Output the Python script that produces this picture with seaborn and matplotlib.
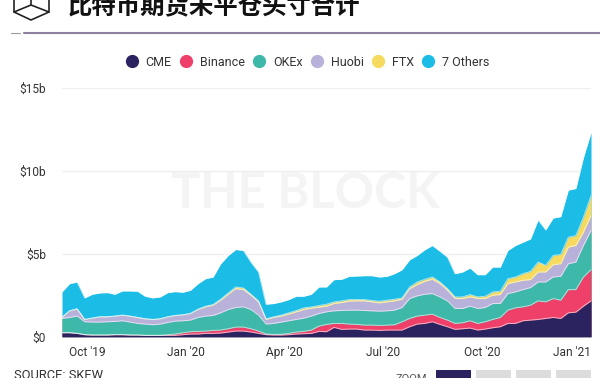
import matplotlib
matplotlib.use('Agg')
import matplotlib.pyplot as plt
import matplotlib.dates as mdates
from matplotlib.lines import Line2D
from matplotlib.patches import Rectangle
from matplotlib.transforms import ScaledTranslation
import seaborn as sns
import pandas as pd

# weekly open interest, top edge of each stacked band ($b)
dates = pd.date_range('2019-09-08', periods=71, freq='7D')

cme = [.24, .24, .2, .12, .1, .1, .1, .12, .12, .1, .1, .08, .08, .08, .08, .08, .12, .16, .16, .2,
       .2, .22, .28, .34, .34, .28, .2, .12, .1, .1, .12, .16, .18, .2, .32,
       .3, .56, .44, .46, .46, .4, .4, .38, .4, .4, .4, .6, .76, .8, .9, .74, .6, .44, .48, .52,
       .4, .46, .54, .6, .8, .8, .96, 1.0, 1.04, 1.1, 1.16, 1.1, 1.44, 1.48, 1.84, 2.16]
binance = [.24, .24, .2, .12, .1, .1, .1, .12, .12, .1, .1, .08, .08, .08, .12, .16, .24, .3, .32, .34,
           .38, .4, .48, .58, .58, .48, .34, .16, .14, .14, .2, .28, .32, .4, .64,
           .74, .8, .8, .76, .74, .7, .7, .68, .7, .72, .9, 1.1, 1.24, 1.3, 1.36, 1.16, 1.0, .8, .84, .96,
           .8, .9, 1.04, 1.16, 1.6, 1.74, 1.8, 1.9, 2.16, 2.1, 2.3, 2.2, 2.84, 2.84, 3.6, 4.04]
okex = [1.1, 1.16, 1.24, .9, .88, .88, .9, .92, .96, .88, .8, .76, .72, .76, .86, .94, .96, 1.0, 1.16, 1.24,
        1.28, 1.44, 1.64, 1.76, 1.8, 1.64, 1.3, .76, .8, .88, .96, 1.04, 1.12, 1.24, 1.4,
        1.5, 1.56, 1.58, 1.6, 1.6, 1.58, 1.56, 1.54, 1.56, 1.6, 1.76, 2.3, 2.46, 2.56, 2.6, 2.4, 2.16, 1.7, 1.7, 1.84,
        1.7, 1.76, 2.0, 2.0, 2.6, 2.7, 2.84, 2.96, 3.3, 3.3, 3.6, 3.64, 4.4, 4.5, 5.5, 6.4]
huobi = [1.16, 1.56, 1.68, 1.04, 1.12, 1.2, 1.2, 1.24, 1.3, 1.24, 1.16, 1.08, 1.04, 1.08, 1.2, 1.28, 1.32, 1.4, 1.64, 1.8,
         1.9, 2.2, 2.56, 2.9, 2.84, 2.5, 2.1, 1.04, 1.16, 1.24, 1.36, 1.5, 1.64, 1.72, 1.78,
         1.84, 2.0, 2.06, 2.14, 2.16, 2.16, 2.1, 2.04, 2.1, 2.16, 2.26, 2.9, 3.14, 3.34, 3.46, 3.2, 2.8, 2.3, 2.3, 2.4,
         2.3, 2.3, 2.5, 2.54, 3.2, 3.3, 3.4, 3.44, 3.9, 3.9, 4.34, 4.4, 5.4, 5.5, 6.3, 7.3]
ftx = [1.16, 1.56, 1.68, 1.04, 1.12, 1.2, 1.2, 1.24, 1.3, 1.24, 1.16, 1.08, 1.04, 1.08, 1.2, 1.28, 1.32, 1.4, 1.66, 1.84,
       1.94, 2.26, 2.64, 3.0, 2.94, 2.56, 2.16, 1.08, 1.2, 1.3, 1.44, 1.58, 1.74, 1.8, 1.88,
       1.96, 2.1, 2.16, 2.24, 2.24, 2.24, 2.18, 2.14, 2.2, 2.26, 2.34, 3.0, 3.3, 3.46, 3.6, 3.3, 2.9, 2.4, 2.4, 2.54,
       2.4, 2.44, 2.7, 2.74, 3.5, 3.6, 3.8, 3.94, 4.5, 4.3, 4.9, 4.96, 6.0, 6.1, 7.2, 8.5]
others = [2.7, 3.2, 3.3, 2.34, 2.56, 2.64, 2.66, 2.56, 2.76, 2.76, 2.74, 2.44, 2.34, 2.4, 2.66, 2.72, 2.68, 2.8, 3.2, 3.5,
          3.6, 4.4, 4.9, 5.26, 5.2, 4.5, 3.9, 1.96, 2.0, 2.1, 2.24, 2.44, 2.44, 2.56, 3.0,
          3.0, 3.44, 3.46, 3.64, 3.66, 3.68, 3.68, 3.6, 3.64, 3.8, 4.04, 4.64, 4.9, 5.24, 5.5, 5.16, 4.8, 3.8, 3.9, 4.14,
          3.74, 3.74, 4.2, 4.2, 5.2, 5.5, 5.7, 5.9, 7.04, 6.44, 7.16, 7.24, 8.84, 8.94, 10.8, 12.3]

names = ['CME', 'Binance', 'OKEx', 'Huobi', 'FTX', '7 Others']
colors = ['#2b2360', '#ee4069', '#3db8a9', '#b8b1da', '#f5da5f', '#1bbce6']
tops = [cme, binance, okex, huobi, ftx, others]

y_ticks = [0, 5, 10, 15]
y_labels = ['$0', '$5b', '$10b', '$15b']
x_ticks = ['2019-10-01', '2020-01-01', '2020-04-01', '2020-07-01', '2020-10-01', '2021-01-01']
x_labels = ["Oct '19", "Jan '20", "Apr '20", "Jul '20", "Oct '20", "Jan '21"]

data = pd.concat([pd.DataFrame({'date': dates, 'top': t, 'name': n}) for t, n in zip(tops, names)])

sns.set_style('white')
plt.rcParams['font.family'] = ['Roboto', 'DejaVu Sans']

W, H = 600, 378
fig = plt.figure(figsize=(W / 100, H / 100), dpi=100)
ax = fig.add_axes([62 / W, 1 - 336.7 / H, 529 / W, (336.7 - 88) / H])

# 水印
ax.text(0.46, 0.575, 'THE BLOCK', transform=ax.transAxes, ha='center', va='center',
        fontsize=35, fontweight='bold', color='#f4f4f4', family='Lato', zorder=0.5)

# 从最上层往下画，每层都填到 0
for t, c in reversed(list(zip(tops, colors))):
    ax.fill_between(dates, 0, t, color=c, lw=0, zorder=2)
sns.lineplot(data=data, x='date', y='top', hue='name', palette={n: 'white' for n in names},
             lw=0.7, alpha=0.6, legend=False, ax=ax, zorder=3)

ax.set_xlim(dates[0], dates[-1])
ax.set_ylim(0, 15)
ax.set_xlabel('')
ax.set_ylabel('')
ax.set_yticks(y_ticks)
ax.set_yticklabels(y_labels)
ax.set_xticks(mdates.date2num(pd.to_datetime(x_ticks)))
ax.set_xticklabels(x_labels)
ax.tick_params(axis='both', length=0, labelsize=8.6, labelcolor='#333333')
ax.tick_params(axis='y', pad=11.5)
ax.tick_params(axis='x', pad=6.5)
ax.grid(axis='y', color='#efefef', lw=1, zorder=1)
ax.set_axisbelow(True)
sns.despine(ax=ax, left=True, bottom=True)

# 最后一个标签不能超出图边
last = ax.get_xticklabels()[-1]
last.set_transform(last.get_transform() + ScaledTranslation(-9 / 100, 0, fig.dpi_scale_trans))

handles = [Line2D([], [], ls='', marker='o', ms=8.5, color=c) for c in colors]
fig.legend(handles, names, loc='center', bbox_to_anchor=(307 / W, 1 - 62 / H), ncol=6, frameon=False,
           fontsize=9, labelcolor='#333333', handletextpad=0.5, columnspacing=0.55, handlelength=1.2)

# 标题和 logo，顶部被裁掉
fig.text(68 / W, 1 - 13 / H, '比特币期货未平仓头寸合计', fontsize=17.6, fontweight='bold', color='#111111',
         family=['Noto Sans CJK SC', 'DejaVu Sans'], va='baseline')


def px_line(xs, ys, color='#222222', lw=1.2):
    fig.add_artist(Line2D([x / W for x in xs], [1 - y / H for y in ys], color=color, lw=lw))


px_line([14, 14, 31, 49, 49], [0, 12, 20, 12, 0])
px_line([14, 31, 49], [12, 5, 12])
px_line([31, 31], [0, 5])
px_line([24, 600], [33, 33], color='#8d7f9f', lw=1.5)
px_line([11, 20], [33, 33], color='#999999', lw=0.8)

# 底部：来源和缩放按钮，下边被裁掉
fig.text(14 / W, 1 - 379 / H, 'SOURCE: SKEW', fontsize=9.3, color='#333333', va='baseline')
fig.text(395 / W, 1 - 382 / H, 'ZOOM', fontsize=8, color='#555555', va='baseline')
for x0, c in zip([436, 476, 516, 556], ['#2b2360', '#dcdcdc', '#dcdcdc', '#dcdcdc']):
    fig.add_artist(Rectangle((x0 / W, 0), 35 / W, 8 / H, transform=fig.transFigure, color=c, lw=0))

fig.savefig('out.png', dpi=100)
